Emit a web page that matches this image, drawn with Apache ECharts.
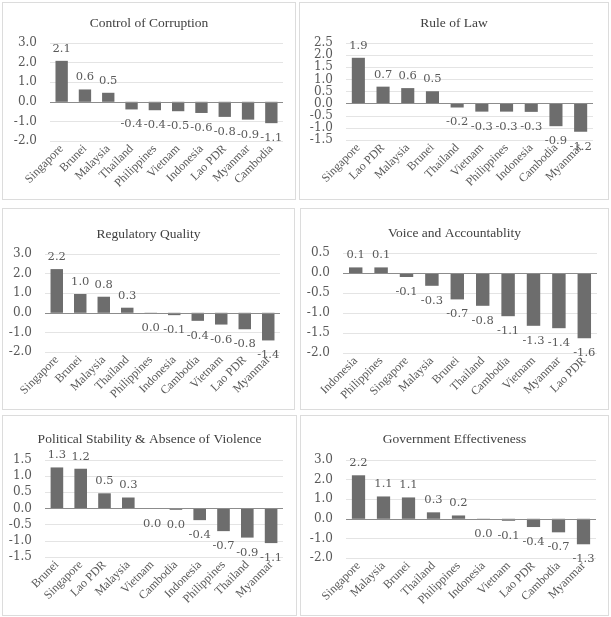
<!DOCTYPE html>
<html>
<head>
<meta charset="utf-8">
<script src="https://cdn.jsdelivr.net/npm/echarts@6/dist/echarts.min.js"></script>
<style>
  html, body { margin: 0; padding: 0; background: #fff; }
  body { width: 611px; height: 617px; position: relative; overflow: hidden; }
  .panel { position: absolute; box-sizing: border-box; border: 1px solid #dcdcdc; }
  .panel .chart { position: absolute; left: 0; top: 0; right: 0; bottom: 0; }
</style>
</head>
<body>
<script>
// values
const corruptionCountries = ["Singapore", "Brunei", "Malaysia", "Thailand", "Philippines", "Vietnam", "Indonesia", "Lao PDR", "Myanmar", "Cambodia"];
const corruptionValues = [2.09, 0.63, 0.46, -0.39, -0.43, -0.48, -0.57, -0.77, -0.91, -1.09];

const lawCountries = ["Singapore", "Lao PDR", "Malaysia", "Brunei", "Thailand", "Vietnam", "Philippines", "Indonesia", "Cambodia", "Myanmar"];
const lawValues = [1.89, 0.7, 0.64, 0.51, -0.16, -0.33, -0.33, -0.34, -0.93, -1.16];

const regulatoryCountries = ["Singapore", "Brunei", "Malaysia", "Thailand", "Philippines", "Indonesia", "Cambodia", "Vietnam", "Lao PDR", "Myanmar"];
const regulatoryValues = [2.23, 0.96, 0.82, 0.26, -0.01, -0.12, -0.41, -0.6, -0.84, -1.41];

const voiceCountries = ["Indonesia", "Philippines", "Singapore", "Malaysia", "Brunei", "Thailand", "Cambodia", "Vietnam", "Myanmar", "Lao PDR"];
const voiceValues = [0.14, 0.14, -0.1, -0.32, -0.66, -0.82, -1.08, -1.32, -1.38, -1.63];

const stabilityCountries = ["Brunei", "Singapore", "Lao PDR", "Malaysia", "Vietnam", "Cambodia", "Indonesia", "Philippines", "Thailand", "Myanmar"];
const stabilityValues = [1.27, 1.23, 0.47, 0.34, -0.01, -0.04, -0.36, -0.7, -0.9, -1.07];

const effectivenessCountries = ["Singapore", "Malaysia", "Brunei", "Thailand", "Philippines", "Indonesia", "Vietnam", "Lao PDR", "Cambodia", "Myanmar"];
const effectivenessValues = [2.22, 1.14, 1.09, 0.33, 0.17, -0.01, -0.1, -0.42, -0.69, -1.3];

// page layout: box = panel border, plot = grid area, all in page pixels
const panels = [
  { title: "Control of Corruption", cats: corruptionCountries, vals: corruptionValues, min: -2, max: 3, step: 1,
    box: [2, 2, 296, 200], plot: [50, 43, 283, 141], titleY: 19 },
  { title: "Rule of Law", cats: lawCountries, vals: lawValues, min: -1.5, max: 2.5, step: 0.5,
    box: [299, 2, 609, 200], plot: [346, 43, 593, 140], titleY: 19 },
  { title: "Regulatory Quality", cats: regulatoryCountries, vals: regulatoryValues, min: -2, max: 3, step: 1,
    box: [2, 208, 295, 410], plot: [45, 254, 280, 352], titleY: 230 },
  { title: "Voice and Accountablity", cats: voiceCountries, vals: voiceValues, min: -2, max: 0.5, step: 0.5,
    box: [300, 208, 609, 410], plot: [343, 253, 597, 353], titleY: 229 },
  { title: "Political Stability & Absence of Violence", cats: stabilityCountries, vals: stabilityValues, min: -1.5, max: 1.5, step: 0.5,
    box: [2, 415, 297, 616], plot: [45, 460, 283, 557], titleY: 435 },
  { title: "Government Effectiveness", cats: effectivenessCountries, vals: effectivenessValues, min: -2, max: 3, step: 1,
    box: [300, 415, 609, 616], plot: [346, 460, 596, 558], titleY: 435 }
];

const numFont = "DejaVu Serif";
const textFont = "Liberation Serif";

// one decimal, and tiny negatives show as 0.0
const fmt = (v) => (Math.abs(v) < 0.05 ? 0 : v).toFixed(1);

panels.forEach((p) => {
  const [bx1, by1, bx2, by2] = p.box;
  const panel = document.createElement("div");
  panel.className = "panel";
  panel.style.left = bx1 + "px";
  panel.style.top = by1 + "px";
  panel.style.width = (bx2 - bx1) + "px";
  panel.style.height = (by2 - by1) + "px";
  const inner = document.createElement("div");
  inner.className = "chart";
  panel.appendChild(inner);
  document.body.appendChild(panel);

  // chart origin sits inside the 1px border
  const ox = bx1 + 1, oy = by1 + 1;
  const w = bx2 - bx1 - 2, h = by2 - by1 - 2;
  const [gx1, gy1, gx2, gy2] = p.plot;

  const chart = echarts.init(inner, null, { renderer: "canvas" });
  chart.setOption({
    animation: false,
    title: {
      text: p.title,
      left: "center",
      top: p.titleY - 8 - oy,
      textStyle: { fontFamily: textFont, fontSize: 13.5, fontWeight: "normal", color: "#404040" }
    },
    grid: {
      left: gx1 - ox,
      top: gy1 - oy,
      right: ox + w - gx2,
      bottom: oy + h - gy2,
      containLabel: false,
      outerBoundsMode: "none"
    },
    xAxis: {
      type: "category",
      data: p.cats,
      axisLine: { show: false, onZero: false },
      axisTick: { show: false },
      axisLabel: {
        interval: 0,
        rotate: 45,
        margin: 6,
        fontFamily: textFont,
        fontSize: 12,
        color: "#595959"
      }
    },
    yAxis: {
      type: "value",
      min: p.min,
      max: p.max,
      interval: p.step,
      axisLine: { show: false },
      axisTick: { show: false },
      splitLine: { lineStyle: { color: "#e4e4e4", width: 1 } },
      axisLabel: {
        margin: 13,
        fontFamily: numFont,
        fontSize: 12,
        color: "#595959",
        formatter: (v) => v.toFixed(1)
      }
    },
    series: [
      {
        type: "bar",
        barCategoryGap: "47%",
        itemStyle: { color: "#6d6d6d" },
        data: p.vals.map((v) => ({
          value: v,
          label: v < 0 ? { position: "bottom", distance: 9 } : { position: "top", distance: 6 }
        })),
        label: {
          show: true,
          fontFamily: numFont,
          fontSize: 11.5,
          color: "#595959",
          formatter: (d) => fmt(d.value)
        },
        markLine: {
          silent: true,
          symbol: "none",
          label: { show: false },
          lineStyle: { color: "#8c8c8c", type: "solid", width: 1 },
          data: [{ yAxis: 0 }]
        }
      }
    ]
  });
});
</script>
</body>
</html>
